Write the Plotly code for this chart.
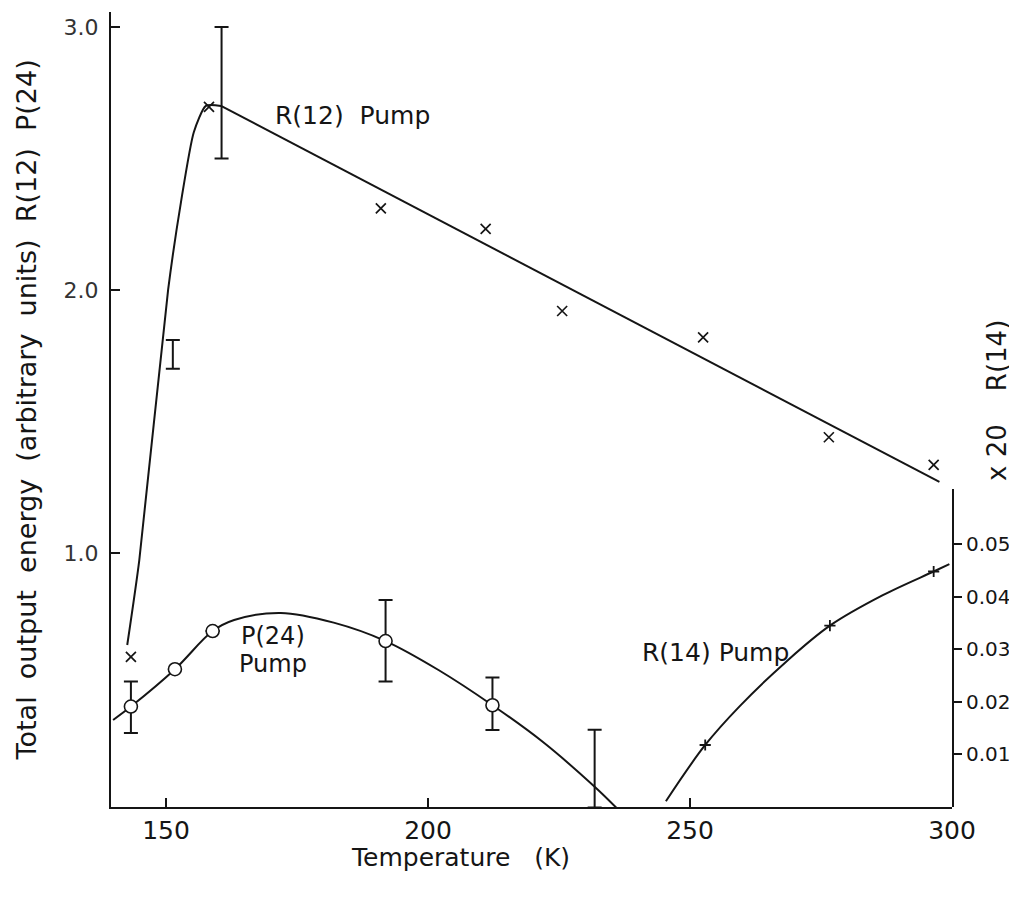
import plotly.graph_objects as go

# ---------------- data ----------------
# R(12) pump: measured points (x markers)
r12_temp = [143.3, 158.2, 191.0, 211.0, 225.6, 252.5, 276.5, 296.5]
r12_energy = [0.605, 2.696, 2.31, 2.232, 1.92, 1.82, 1.44, 1.335]
# R(12) pump: drawn curve, rising branch
r12_rise_temp = [142.6, 144.9, 150.4, 152.9, 155.3, 157.6, 160.5]
r12_rise_energy = [0.65, 0.973, 2.0, 2.34, 2.60, 2.70, 2.70]
# R(12) pump: drawn straight line
r12_line_temp = [160.5, 297.6]
r12_line_energy = [2.70, 1.27]
# R(12) pump: stand-alone error bars
r12_err_temp = [151.3, 160.6]
r12_err_mid = [1.755, 2.75]
r12_err_half = [0.055, 0.25]

# P(24) pump: measured points (open circles) with error bars
p24_temp = [143.3, 151.7, 158.9, 191.9, 212.3]
p24_energy = [0.416, 0.558, 0.703, 0.665, 0.421]
p24_err_plus = [0.095, 0.0, 0.0, 0.156, 0.105]
p24_err_minus = [0.101, 0.0, 0.0, 0.154, 0.094]
# P(24) pump: drawn curve
p24_fit_temp = [139.9, 143.3, 151.7, 158.9, 163.0, 171.9, 182.0, 191.9, 202.0, 212.3, 222.0, 231.8, 236.0]
p24_fit_energy = [0.365, 0.416, 0.558, 0.703, 0.745, 0.772, 0.735, 0.665, 0.555, 0.421, 0.28, 0.111, 0.03]
# P(24) pump: stand-alone error bar
p24_bar_temp = [231.8]
p24_bar_mid = [0.18]
p24_bar_half = [0.148]

# R(14) pump (right axis, x20 scale): measured points (+ markers)
r14_temp = [252.9, 276.7, 296.5]
r14_energy = [0.0118, 0.0345, 0.0448]
# R(14) pump: drawn curve
r14_fit_temp = [245.4, 252.9, 259.5, 268.3, 276.7, 286.8, 296.5, 299.5]
r14_fit_energy = [0.0011, 0.0118, 0.0192, 0.0276, 0.0345, 0.0403, 0.0448, 0.0462]

x_ticks = [150, 200, 250, 300]
y_ticks = [1.0, 2.0, 3.0]
y_tick_text = ["1.0", "2.0", "3.0"]
y2_ticks = [0.01, 0.02, 0.03, 0.04, 0.05]
y2_tick_text = ["0.01", "0.02", "0.03", "0.04", "0.05"]

# ---------------- styling ----------------
INK = "#151515"
FONT = "DejaVu Sans"
LW = 2

fig = go.Figure()

# curves
fig.add_trace(go.Scatter(x=r12_rise_temp, y=r12_rise_energy, mode="lines",
                         line=dict(color=INK, width=LW, shape="spline", smoothing=0.6),
                         hoverinfo="skip"))
fig.add_trace(go.Scatter(x=r12_line_temp, y=r12_line_energy, mode="lines",
                         line=dict(color=INK, width=LW), hoverinfo="skip"))
fig.add_trace(go.Scatter(x=p24_fit_temp, y=p24_fit_energy, mode="lines",
                         line=dict(color=INK, width=LW, shape="spline", smoothing=1.0),
                         hoverinfo="skip"))
fig.add_trace(go.Scatter(x=r14_fit_temp, y=r14_fit_energy, mode="lines", yaxis="y2",
                         line=dict(color=INK, width=LW, shape="spline", smoothing=1.0),
                         hoverinfo="skip"))

# stand-alone error bars
fig.add_trace(go.Scatter(x=r12_err_temp, y=r12_err_mid, mode="markers",
                         marker=dict(size=1, color="rgba(0,0,0,0)"),
                         error_y=dict(type="data", array=r12_err_half, symmetric=True,
                                      color=INK, thickness=LW, width=7)))
fig.add_trace(go.Scatter(x=p24_bar_temp, y=p24_bar_mid, mode="markers",
                         marker=dict(size=1, color="rgba(0,0,0,0)"),
                         error_y=dict(type="data", array=p24_bar_half, symmetric=True,
                                      color=INK, thickness=LW, width=7)))

# P(24) points with error bars
fig.add_trace(go.Scatter(x=p24_temp, y=p24_energy, mode="markers",
                         marker=dict(symbol="circle", size=13, color="white",
                                     line=dict(color=INK, width=1.6)),
                         error_y=dict(type="data", array=p24_err_plus,
                                      arrayminus=p24_err_minus, symmetric=False,
                                      color=INK, thickness=LW, width=7)))

# R(12) points
fig.add_trace(go.Scatter(x=r12_temp, y=r12_energy, mode="markers",
                         marker=dict(symbol="x-thin", size=10,
                                     line=dict(color=INK, width=1.7))))

# R(14) points
fig.add_trace(go.Scatter(x=r14_temp, y=r14_energy, mode="markers", yaxis="y2",
                         marker=dict(symbol="cross-thin", size=8,
                                     line=dict(color=INK, width=1.8))))

ann_font = dict(family=FONT, size=25, color=INK)
annotations = [
    dict(x=170.4, y=2.665, xref="x", yref="y", text="R(12)  Pump", showarrow=False,
         xanchor="left", yanchor="middle", font=ann_font),
    dict(x=164.0, y=0.684, xref="x", yref="y", text="P(24)", showarrow=False,
         xanchor="left", yanchor="middle", font=dict(family=FONT, size=24, color=INK)),
    dict(x=163.6, y=0.578, xref="x", yref="y", text="Pump", showarrow=False,
         xanchor="left", yanchor="middle", font=dict(family=FONT, size=24, color=INK)),
    dict(x=240.5, y=0.62, xref="x", yref="y", text="R(14) Pump", showarrow=False,
         xanchor="left", yanchor="middle", font=ann_font),
    # axis titles
    dict(x=0.415, y=-0.063, xref="paper", yref="paper", text="Temperature   (K)",
         showarrow=False, xanchor="center", yanchor="middle", font=ann_font),
    dict(x=-0.1, y=0.5, xref="paper", yref="paper",
         text="Total  output  energy  (arbitrary  units)  R(12)  P(24)",
         showarrow=False, xanchor="center", yanchor="middle", textangle=-90,
         font=dict(family=FONT, size=27, color=INK)),
    dict(x=1.0535, y=0.512, xref="paper", yref="paper", text="x 20    R(14)",
         showarrow=False, xanchor="center", yanchor="middle", textangle=-90,
         font=dict(family=FONT, size=26, color=INK)),
]

fig.update_layout(
    width=1009, height=889,
    margin=dict(l=103, r=65, t=4, b=90, autoexpand=False),
    paper_bgcolor="white", plot_bgcolor="rgba(0,0,0,0)",
    showlegend=False,
    font=dict(family=FONT, color=INK),
    xaxis=dict(range=[139.5, 300], tickvals=x_ticks, ticks="inside", ticklen=9,
               tickwidth=LW, tickcolor=INK, showline=True, linecolor=INK, linewidth=LW,
               showgrid=False, zeroline=False, automargin=False,
               tickfont=dict(family=FONT, size=25, color=INK)),
    yaxis=dict(range=[0.034, 3.057], tickvals=y_ticks, ticktext=y_tick_text,
               ticks="inside", ticklen=9, tickwidth=LW, tickcolor=INK,
               showline=True, linecolor=INK, linewidth=LW, showgrid=False, zeroline=False,
               ticklabelstandoff=6, automargin=False,
               tickfont=dict(family=FONT, size=22, color="#333")),
    yaxis2=dict(domain=[0, 0.4], range=[0, 0.0605], anchor="x", side="right",
                tickvals=y2_ticks, ticktext=y2_tick_text, ticks="outside", ticklen=8,
                tickwidth=LW, tickcolor=INK, showline=True, linecolor=INK, linewidth=LW,
                showgrid=False, zeroline=False, automargin=False,
                tickfont=dict(family=FONT, size=20, color=INK)),
    annotations=annotations,
)

fig.write_html("out.html")
